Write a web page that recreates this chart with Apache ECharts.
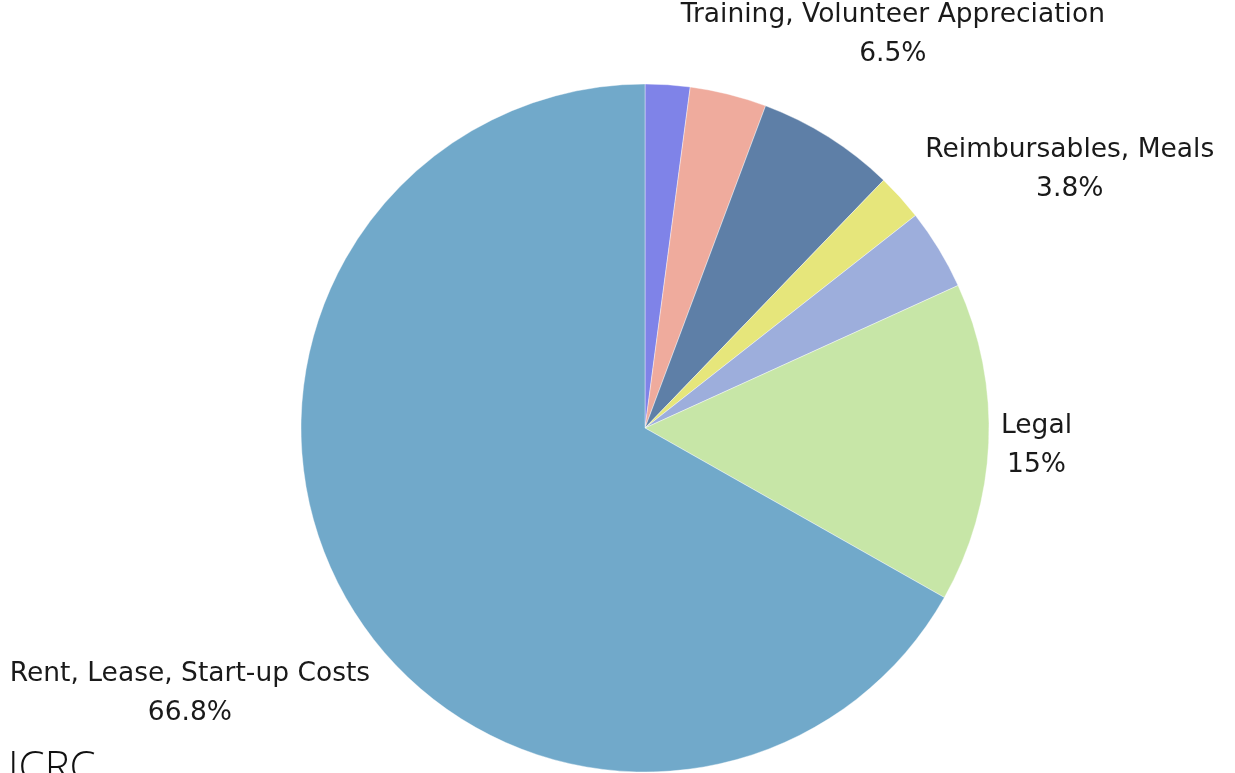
<!DOCTYPE html>
<html>
<head>
<meta charset="utf-8">
<script src="https://cdn.jsdelivr.net/npm/echarts@6/dist/echarts.min.js"></script>
<style>
html,body{margin:0;padding:0;background:#fff;}
#chart{width:1235px;height:773px;}
</style>
</head>
<body>
<div id="chart"></div>
<script>
// Data (clockwise from 12 o'clock)
const categories = ['Insurance', 'Office Supplies', 'Training, Volunteer Appreciation', 'Printing', 'Reimbursables, Meals', 'Legal', 'Rent, Lease, Start-up Costs'];
const values = [2.1, 3.6, 6.5, 2.2, 3.8, 15, 66.8];
const colors = ['#7f83e8', '#efab9d', '#5e7fa7', '#e6e67b', '#9daedc', '#c7e6a7', '#71a9ca'];
const showLabel = [false, false, true, false, true, true, true];

const CX = 645, CY = 428, R = 344, GAP = 12;
const total = values.reduce((a, b) => a + b, 0);
const midAngles = [];
let acc = 0;
values.forEach(v => { midAngles.push((acc + v / 2) / total * Math.PI * 2); acc += v; });

const chart = echarts.init(document.getElementById('chart'));
const FONT = '"DejaVu Sans", sans-serif';
chart.setOption({
  animation: false,
  color: colors,
  graphic: [{
    type: 'text', left: 8, top: 748,
    style: { text: 'ICRC', fontSize: 42, fontFamily: '"Open Sans", sans-serif', fontWeight: 300, fill: '#111' }
  }],
  series: [{
    type: 'pie',
    center: [CX, CY],
    radius: R,
    startAngle: 90,
    clockwise: true,
    avoidLabelOverlap: false,
    itemStyle: { borderColor: '#ffffff', borderWidth: 0.4 },
    label: {
      show: true,
      position: 'outside',
      formatter: '{b}\n{d}%',
      fontFamily: FONT,
      fontSize: 26.5,
      lineHeight: 39,
      color: '#1a1a1a',
      align: 'center'
    },
    labelLine: { show: false },
    labelLayout: function (p) {
      const i = p.dataIndex;
      if (!showLabel[i]) return {};
      const m = midAngles[i];
      const ux = Math.sin(m), uy = -Math.cos(m);
      const w = p.labelRect.width, h = p.labelRect.height;
      let lo = 0, hi = 3000;
      for (let k = 0; k < 60; k++) {
        const d = (lo + hi) / 2;
        const bx = ux * d, by = uy * d;
        const nx = Math.min(Math.max(0, bx - w / 2), bx + w / 2);
        const ny = Math.min(Math.max(0, by - h / 2), by + h / 2);
        if (Math.hypot(nx, ny) < R + GAP) lo = d; else hi = d;
      }
      const d = (lo + hi) / 2;
      return { x: CX + ux * d, y: CY + uy * d, align: 'center', verticalAlign: 'middle' };
    },
    data: categories.map((c, i) => ({
      name: c,
      value: values[i],
      label: { show: showLabel[i] }
    }))
  }]
});
</script>
</body>
</html>
